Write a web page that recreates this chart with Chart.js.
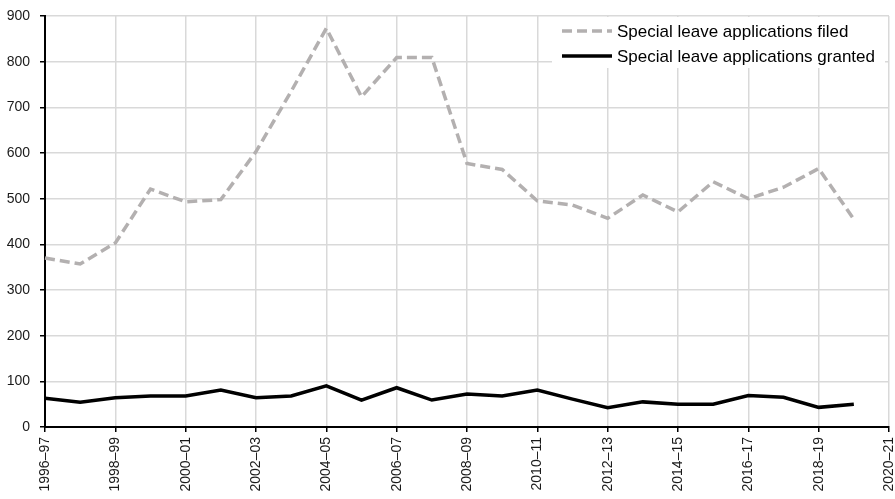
<!DOCTYPE html>
<html>
<head>
<meta charset="utf-8">
<script src="https://cdn.jsdelivr.net/npm/chart.js@4.4.1/dist/chart.umd.min.js"></script>
<style>
  html, body { margin: 0; padding: 0; background: #ffffff; }
  #wrap { width: 895px; height: 499px; position: relative; }
</style>
</head>
<body>
<div id="wrap"><canvas id="slaChart"></canvas></div>
<script>
const years = ['1996–97', '1997–98', '1998–99', '1999–00', '2000–01', '2001–02', '2002–03', '2003–04',
    '2004–05', '2005–06', '2006–07', '2007–08', '2008–09', '2009–10', '2010–11', '2011–12',
    '2012–13', '2013–14', '2014–15', '2015–16', '2016–17', '2017–18', '2018–19', '2019–20', '2020–21'];
const filed = [370, 357, 403, 521, 493, 498, 603, 735, 873, 723, 809, 809, 577, 564, 495, 486,
    457, 508, 471, 537, 500, 525, 566, 455, null];
const granted = [63, 54, 64, 68, 68, 81, 64, 68, 90, 59, 86, 59, 72, 68, 81, 61,
    42, 55, 50, 50, 69, 65, 43, 50, null];
const yTicks = [0, 100, 200, 300, 400, 500, 600, 700, 800, 900];

const FONT = '"Liberation Sans", Arial, sans-serif';
const GRID_COLOR = '#d9d9d9';
const FILED_COLOR = '#b3b0b0';

// legend drawn by hand so it sits inside the plot, top right, on white
const boxLegendPlugin = {
  id: 'box_legend',

  afterDraw: function (chart, args, options) {
      const ctx = chart.ctx;
      const area = chart.chartArea;
      const right = area.right - 4;
      const left = right - 333;
      const top = area.top + 1;

      ctx.save();
      ctx.fillStyle = '#ffffff';
      ctx.fillRect(left, top, right - left, 51);

      ctx.font = '17px ' + FONT;
      ctx.textBaseline = 'middle';
      ctx.textAlign = 'left';
      chart.data.datasets.forEach(function (ds, i) {
          const y = top + 14 + i * 25;
          ctx.beginPath();
          ctx.lineWidth = ds.borderWidth;
          ctx.strokeStyle = ds.borderColor;
          ctx.setLineDash(ds.borderDash || []);
          ctx.moveTo(left + 10, y);
          ctx.lineTo(left + 60, y);
          ctx.stroke();
          ctx.setLineDash([]);
          ctx.fillStyle = '#000000';
          ctx.fillText(ds.label, left + 65, y + 1);
      });
      ctx.restore();
  }
};

function initChart() {
    Chart.register(boxLegendPlugin);

    const ctx = document.getElementById('slaChart');
    return new Chart(ctx, {
      type: 'line',
      data: {
        labels: years,
        datasets: [
          {
            label: 'Special leave applications filed',
            data: filed,
            borderColor: FILED_COLOR,
            borderWidth: 3.5,
            borderDash: [10, 5],
            pointRadius: 0,
            tension: 0,
            fill: false
          },
          {
            label: 'Special leave applications granted',
            data: granted,
            borderColor: '#000000',
            borderWidth: 3.5,
            pointRadius: 0,
            tension: 0,
            fill: false
          }
        ]
      },
      options: {
        responsive: true,
        maintainAspectRatio: false,
        animation: false,
        devicePixelRatio: 1,
        layout: {
          padding: { top: 16, right: 6, left: 0, bottom: 0 }
        },
        scales: {
          x: {
            offset: false,
            afterFit: function (scale) {
                scale.height = 72;
                scale.paddingLeft = 0;
                scale.paddingRight = 0;
            },
            border: { color: '#000000', width: 2 },
            grid: {
              lineWidth: 1.5,
              color: (c) => (c.index % 2 === 0 ? GRID_COLOR : 'rgba(0,0,0,0)'),
              tickColor: (c) => (c.index % 2 === 0 ? '#000000' : 'rgba(0,0,0,0)'),
              tickLength: 5
            },
            ticks: {
              autoSkip: false,
              maxRotation: 90,
              minRotation: 90,
              padding: 5,
              color: '#1a1a1a',
              font: { family: FONT, size: 14 },
              callback: function (value, index) {
                  return index % 2 === 0 ? years[index] : '';
              }
            }
          },
          y: {
            min: yTicks[0],
            max: yTicks[yTicks.length - 1],
            afterFit: function (scale) {
                scale.width = 45;
                scale.paddingTop = 0;
                scale.paddingBottom = 0;
            },
            afterBuildTicks: function (scale) {
                scale.ticks = yTicks.map(v => ({ value: v }));
            },
            border: { color: '#000000', width: 2 },
            grid: {
              lineWidth: 1.5,
              color: GRID_COLOR,
              tickColor: '#000000',
              tickLength: 5
            },
            ticks: {
              padding: 10,
              color: '#1a1a1a',
              font: { family: FONT, size: 14 }
            }
          }
        },
        plugins: {
          legend: { display: false },
          tooltip: { enabled: false },
          title: { display: false }
        }
      }
    });
}

var g_chart = initChart();
</script>
</body>
</html>
